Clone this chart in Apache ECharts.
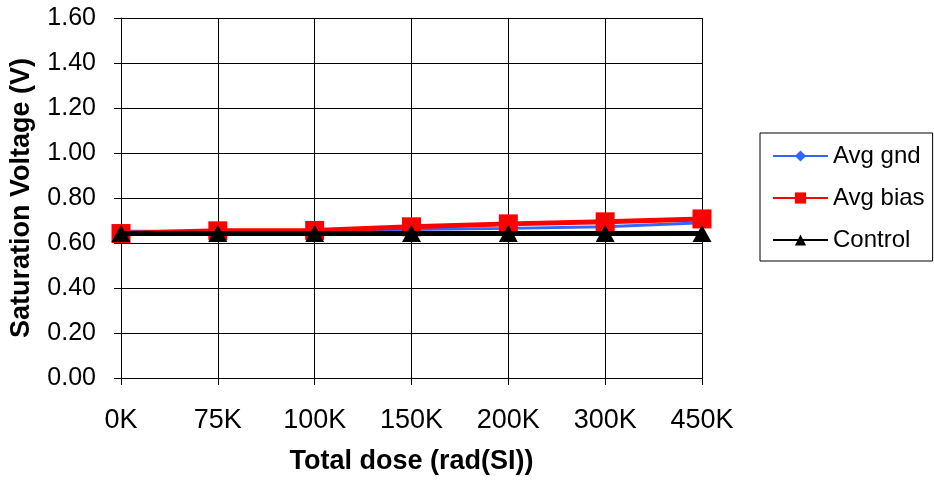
<!DOCTYPE html>
<html><head><meta charset="utf-8">
<script src="https://cdn.jsdelivr.net/npm/echarts@6/dist/echarts.min.js"></script>
<style>html,body{margin:0;padding:0;background:#fff}#c{width:934px;height:481px}</style>
</head><body><div id="c"></div>
<script>
const categories = ['0K','75K','100K','150K','200K','300K','450K'];
const avgGnd = [0.652, 0.652, 0.652, 0.66, 0.665, 0.672, 0.69];
const avgBias = [0.642, 0.654, 0.656, 0.672, 0.685, 0.694, 0.707];
const control = [0.642, 0.642, 0.642, 0.642, 0.642, 0.642, 0.642];
const yTicks = {min: 0, max: 1.6, interval: 0.2};

const font = 'Liberation Sans, Arial, sans-serif';
const chart = echarts.init(document.getElementById('c'));
chart.setOption({
  animation: false,
  grid: {left: 121, right: 232, top: 18, bottom: 103},
  legend: {
    orient: 'vertical', left: 760, top: 133,
    itemWidth: 55, itemHeight: 14, itemGap: 18,
    padding: [11, 8, 9, 12],
    borderColor: '#000', borderWidth: 1,
    textStyle: {fontFamily: font, fontSize: 24, lineHeight: 24, color: '#000'},
    data: ['Avg gnd', 'Avg bias', 'Control']
  },
  xAxis: {
    type: 'category', data: categories, boundaryGap: false,
    name: 'Total dose (rad(SI))', nameLocation: 'middle', nameGap: 70,
    nameTextStyle: {fontFamily: font, fontSize: 27, fontWeight: 'bold', color: '#000'},
    axisLine: {lineStyle: {color: '#000', width: 1}},
    axisTick: {show: true, length: 7, lineStyle: {color: '#000'}},
    axisLabel: {fontFamily: font, fontSize: 27, color: '#000', margin: 29},
    splitLine: {show: true, lineStyle: {color: '#000', width: 1}}
  },
  yAxis: {
    type: 'value', min: yTicks.min, max: yTicks.max, interval: yTicks.interval,
    name: 'Saturation Voltage (V)', nameLocation: 'middle', nameGap: 86,
    nameTextStyle: {fontFamily: font, fontSize: 27, fontWeight: 'bold', color: '#000'},
    axisLine: {show: true, lineStyle: {color: '#000', width: 1}},
    axisTick: {show: true, length: 7, lineStyle: {color: '#000'}},
    axisLabel: {fontFamily: font, fontSize: 25, color: '#000', margin: 25,
      formatter: v => v.toFixed(2)},
    splitLine: {show: true, lineStyle: {color: '#000', width: 1}}
  },
  series: [
    {name: 'Avg gnd', type: 'line', data: avgGnd, symbol: 'diamond', symbolSize: 10,
     lineStyle: {color: '#3366ff', width: 3}, itemStyle: {color: '#3366ff'}, z: 2},
    {name: 'Avg bias', type: 'line', data: avgBias, symbol: 'rect', symbolSize: 19,
     lineStyle: {color: '#ff0000', width: 5}, itemStyle: {color: '#ff0000'}, z: 3},
    {name: 'Control', type: 'line', data: control, symbol: 'triangle', symbolSize: [19, 17],
     lineStyle: {color: '#000', width: 5}, itemStyle: {color: '#000'}, z: 4}
  ]
});
</script></body></html>
